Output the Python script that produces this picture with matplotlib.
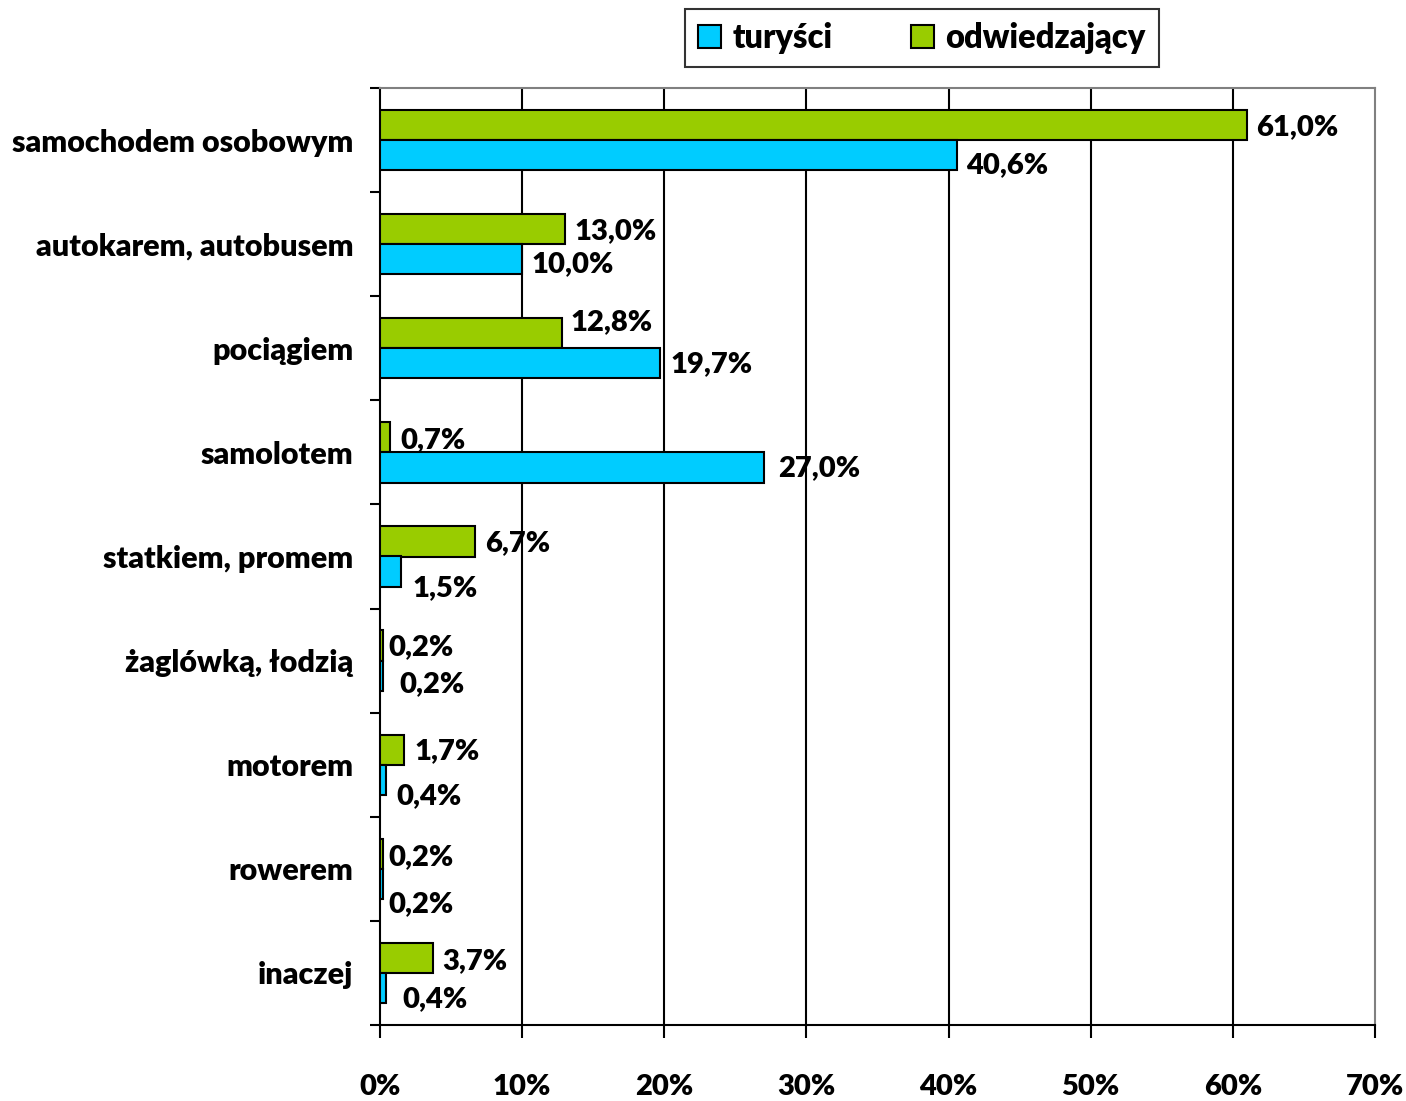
import matplotlib
matplotlib.use("Agg")
import matplotlib.pyplot as plt
from matplotlib.patches import Patch

categories = ["samochodem osobowym", "autokarem, autobusem", "pociągiem", "samolotem",
              "statkiem, promem", "żaglówką, łodzią", "motorem", "rowerem", "inaczej"]
turysci = [40.6, 10.0, 19.7, 27.0, 1.5, 0.2, 0.4, 0.2, 0.4]
odwiedzajacy = [61.0, 13.0, 12.8, 0.7, 6.7, 0.2, 1.7, 0.2, 3.7]
xticks = [0, 10, 20, 30, 40, 50, 60, 70]

# label offsets (pixels: right gap, downward shift) - style only
green_off = [(9, 2), (10, 2), (9, -11), (10, 3), (10, 2), (6, 2), (10, 1), (6, 3), (10, 3)]
blue_off = [(9, 10), (9, 5), (10, 1), (14, 1), (11, 17), (17, 8), (11, 16), (6, 20), (17, 11)]

BLUE = "#00CCFF"
GREEN = "#99CC00"
FONT = "Lato"
W = "heavy"

plt.rcParams["font.family"] = [FONT, "DejaVu Sans"]

fig = plt.figure(figsize=(14.06, 11.01), dpi=100)
ax = fig.add_axes([380/1406, 1 - 1025/1101, (1375-380)/1406, (1025-88)/1101])

n = len(categories)
pos = list(range(n))
h = 0.29
gy = [p - 0.145 for p in pos]
by = [p + 0.145 for p in pos]

ax.barh(gy, odwiedzajacy, height=h, color=GREEN, edgecolor="black", linewidth=1.5, zorder=3)
ax.barh(by, turysci, height=h, color=BLUE, edgecolor="black", linewidth=1.5, zorder=3)

fs = 21
for v, y, (dx, dd) in zip(odwiedzajacy, gy, green_off):
    ax.annotate(f"{v:.1f}%".replace(".", ","), (v, y), xytext=(dx, -dd), textcoords="offset pixels",
                ha="left", va="center", fontsize=fs, fontweight=W, zorder=4)
for v, y, (dx, dd) in zip(turysci, by, blue_off):
    ax.annotate(f"{v:.1f}%".replace(".", ","), (v, y), xytext=(dx, -dd), textcoords="offset pixels",
                ha="left", va="center", fontsize=fs, fontweight=W, zorder=4)

ax.set_xlim(0, 70)
ax.set_ylim(n - 0.5, -0.5)
ax.set_xticks(xticks)
ax.set_xticklabels([f"{t}%" for t in xticks], fontsize=fs, fontweight=W)
ax.tick_params(axis="x", direction="out", length=9, width=1.5, pad=26)

ax.set_yticks(pos)
ax.set_yticklabels(categories, fontsize=22, fontweight=W)
ax.set_yticks([p - 0.5 for p in range(n + 1)], minor=True)
ax.tick_params(axis="y", which="major", length=0, pad=19)
ax.tick_params(axis="y", which="minor", direction="out", length=7, width=1.5)

for t in xticks[1:-1]:
    ax.axvline(t, color="black", linewidth=1.5, zorder=1)

for s in ["left", "bottom"]:
    ax.spines[s].set_color("black")
    ax.spines[s].set_linewidth(1.5)
for s in ["top", "right"]:
    ax.spines[s].set_color("#808080")
    ax.spines[s].set_linewidth(1.5)

handles = [Patch(facecolor=BLUE, edgecolor="black", linewidth=1.5, label="turyści"),
           Patch(facecolor=GREEN, edgecolor="black", linewidth=1.5, label="odwiedzający")]
leg = fig.legend(handles=handles, loc="center", bbox_to_anchor=(922/1406, 1 - 38/1101), ncol=2,
                 prop={"weight": W, "size": 23.5}, frameon=True, fancybox=False,
                 edgecolor="black", handlelength=0.7, handleheight=0.7, handletextpad=0.35,
                 columnspacing=2.4, borderpad=0.4)
leg.get_frame().set_linewidth(1.5)

fig.savefig("out.png", dpi=100, facecolor="white")
